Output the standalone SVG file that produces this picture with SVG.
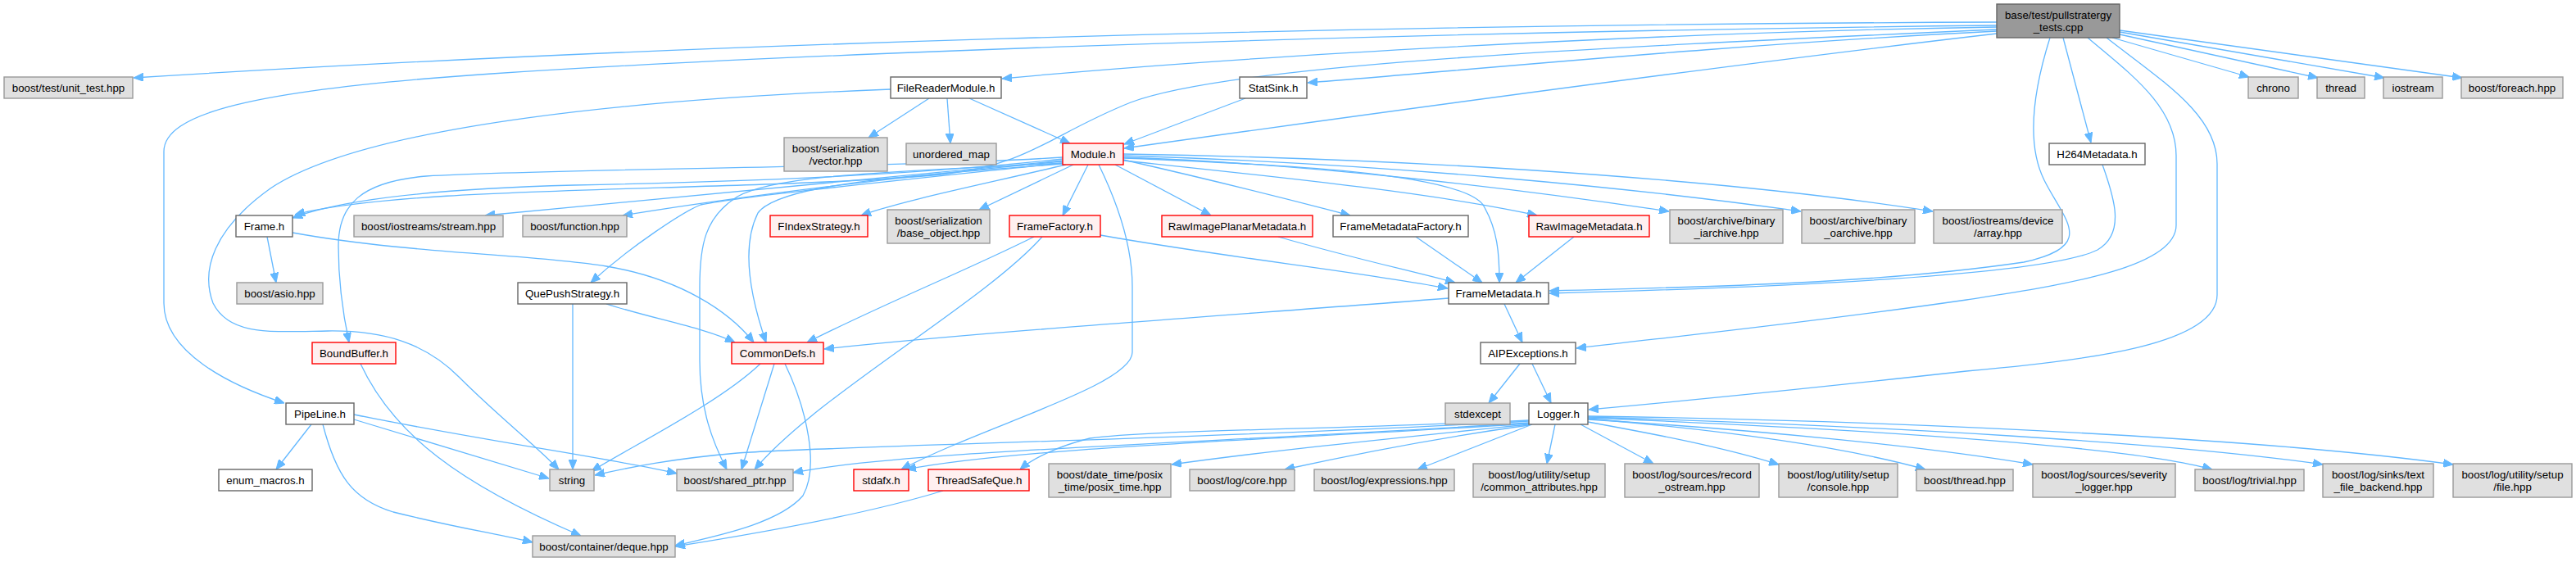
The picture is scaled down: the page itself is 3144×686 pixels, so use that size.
<svg xmlns="http://www.w3.org/2000/svg" width="3144" height="686" viewBox="0 0 3144 686">
<style>
rect{stroke-width:1.4}
.m{fill:#999999;stroke:#666666}
.n{fill:#ffffff;stroke:#666666}
.x{fill:#e0e0e0;stroke:#999999}
.r{fill:#fff0f0;stroke:#ff0000}
text{font-family:"Liberation Sans",Arial,Helvetica,sans-serif;font-size:13.3px;text-anchor:middle;fill:#000}
#edges path{fill:none;stroke:#63b8ff;stroke-width:1.3;marker-end:url(#a)}
</style>
<defs>
<marker id="a" viewBox="0 0 12 10" refX="12" refY="5" markerWidth="12" markerHeight="10" markerUnits="userSpaceOnUse" orient="auto"><path d="M0,0 L12,5 L0,10 z" fill="#63b8ff" stroke="#63b8ff" stroke-width="1"/></marker>
</defs>
<rect width="3144" height="686" fill="#ffffff"/>
<g id="edges">
<path d="M2437,27 C1600,30 800,55 163,95"/>
<path d="M2437,31 C1600,40 900,70 600,90 C300,110 200,140 200,185 L200,370 C200,430 280,470 347,492"/>
<path d="M2437,33 C2000,40 1500,70 1223,96"/>
<path d="M2437,36 C1900,60 1500,80 1380,125 C1280,165 1260,200 1150,213 C900,235 500,225 360,262"/>
<path d="M2437,38 C2100,55 1800,85 1596,101"/>
<path d="M2437,41 C2100,80 1700,135 1372,181"/>
<path d="M2518,46 L2552,174"/>
<path d="M2502,46 C2485,100 2470,170 2495,220 C2520,270 2560,300 2470,320 C2300,345 2100,350 1891,355"/>
<path d="M2566,201 C2580,240 2595,285 2560,305 C2500,335 2200,350 1891,358"/>
<path d="M2548,46 C2600,90 2656,130 2656,190 L2656,275 C2656,330 2500,350 2400,366 C2200,395 2050,410 1924,425"/>
<path d="M2571,46 C2640,100 2706,140 2706,200 L2706,360 C2706,420 2550,440 2400,453 C2200,475 2050,490 1939,500"/>
<path d="M2578,46 L2745,94"/>
<path d="M2587,42 L2829,95"/>
<path d="M2587,39 L2910,95"/>
<path d="M2587,37 L3005,95"/>
<path d="M1134,120 L1060,168"/>
<path d="M1156,120 L1160,175"/>
<path d="M1183,120 L1306,175"/>
<path d="M1087,109 C800,120 450,150 330,230 C260,280 245,330 260,370 C280,410 330,405 400,404 C470,403 520,420 560,460 C610,510 650,540 682,573"/>
<path d="M1520,120 L1372,176"/>
<path d="M1297,194 C1100,215 900,222 700,226 C550,230 420,242 357,266"/>
<path d="M1297,196 C1100,215 900,235 592,263"/>
<path d="M1297,197 C1100,215 900,240 760,263"/>
<path d="M1297,192 C1100,205 700,205 520,215 C440,222 413,250 413,300 C413,350 420,390 426,418"/>
<path d="M1297,199 C1100,220 900,240 855,250 C835,258 770,300 721,345"/>
<path d="M1301,201 C1200,225 1100,245 1051,263"/>
<path d="M1310,201 L1195,256"/>
<path d="M1328,201 L1297,263"/>
<path d="M1297,200 C1100,215 950,225 925,260 C905,300 915,360 935,418"/>
<path d="M1297,199 C1100,210 950,212 900,240 C860,265 854,300 854,350 L854,440 C854,500 870,540 887,573"/>
<path d="M1341,201 C1365,250 1382,300 1382,350 L1382,430 C1382,470 1200,520 1100,573"/>
<path d="M1361,201 L1478,263"/>
<path d="M1371,195 C1480,220 1580,245 1648,263"/>
<path d="M1371,193 C1550,200 1780,210 1810,250 C1828,280 1830,310 1830,345"/>
<path d="M1371,196 C1550,215 1750,235 1876,263"/>
<path d="M1371,192 C1600,200 1850,230 2037,258"/>
<path d="M1371,190 C1700,200 2000,230 2198,258"/>
<path d="M1371,188 C1800,195 2150,225 2359,258"/>
<path d="M326,289 L337,345"/>
<path d="M357,284 C500,310 650,310 740,325 C830,340 890,380 920,418"/>
<path d="M699,371 L699,573"/>
<path d="M740,371 C800,390 860,400 897,418"/>
<path d="M1262,289 C1180,330 1080,370 985,418"/>
<path d="M1272,289 C1200,370 1000,480 921,573"/>
<path d="M1343,287 C1500,315 1650,330 1767,352"/>
<path d="M1560,289 C1650,315 1720,330 1776,345"/>
<path d="M1728,289 L1809,345"/>
<path d="M1921,289 L1850,345"/>
<path d="M1768,364 C1500,385 1200,405 1006,426"/>
<path d="M1836,371 L1858,418"/>
<path d="M1855,444 L1817,492"/>
<path d="M1870,444 L1893,492"/>
<path d="M440,444 C480,530 560,590 709,654"/>
<path d="M380,518 L337,573"/>
<path d="M432,512 L670,584"/>
<path d="M432,506 C600,540 750,560 826,578"/>
<path d="M394,518 C410,580 430,610 480,625 C560,645 610,652 650,662"/>
<path d="M928,444 C880,490 780,540 722,575"/>
<path d="M945,444 L905,573"/>
<path d="M958,444 C985,500 1000,570 980,605 C950,640 870,655 824,666"/>
<path d="M1151,599 C1050,630 900,655 824,667"/>
<path d="M1866,514 C1500,535 1000,545 900,553 C820,560 770,570 726,580"/>
<path d="M1866,516 C1500,540 1100,550 968,577"/>
<path d="M1866,517 C1600,535 1250,545 1106,573"/>
<path d="M1866,513 C1600,525 1400,525 1330,535 C1290,545 1260,560 1245,573"/>
<path d="M1866,518 C1700,535 1550,550 1430,567"/>
<path d="M1866,519 C1750,535 1650,555 1568,573"/>
<path d="M1870,518 L1730,573"/>
<path d="M1898,518 L1888,566"/>
<path d="M1929,518 L2018,566"/>
<path d="M1938,515 C2020,530 2100,545 2171,567"/>
<path d="M1938,511 C2100,525 2250,545 2350,573"/>
<path d="M1938,512 C2150,525 2350,545 2481,567"/>
<path d="M1938,510 C2300,525 2600,545 2700,573"/>
<path d="M1938,509 C2300,520 2650,540 2835,567"/>
<path d="M1938,508 C2400,515 2800,540 2994,567"/>
</g>
<g id="n_main"><rect class="m" x="2437" y="5" width="150" height="41"/><text x="2512" y="23">base/test/pullstratergy</text><text x="2512" y="38">_tests.cpp</text></g>
<g id="n_unit_test"><rect class="x" x="5" y="94" width="157" height="26"/><text x="83.5" y="111.5">boost/test/unit_test.hpp</text></g>
<g id="n_filereader"><rect class="n" x="1087" y="94" width="135" height="26"/><text x="1154.5" y="111.5">FileReaderModule.h</text></g>
<g id="n_statsink"><rect class="n" x="1513" y="94" width="82" height="26"/><text x="1554" y="111.5">StatSink.h</text></g>
<g id="n_chrono"><rect class="x" x="2744" y="94" width="61" height="26"/><text x="2774.5" y="111.5">chrono</text></g>
<g id="n_thread"><rect class="x" x="2828" y="94" width="58" height="26"/><text x="2857" y="111.5">thread</text></g>
<g id="n_iostream"><rect class="x" x="2909" y="94" width="72" height="26"/><text x="2945" y="111.5">iostream</text></g>
<g id="n_foreach"><rect class="x" x="3004" y="94" width="124" height="26"/><text x="3066" y="111.5">boost/foreach.hpp</text></g>
<g id="n_vector"><rect class="x" x="957" y="168" width="126" height="41"/><text x="1020" y="186">boost/serialization</text><text x="1020" y="201">/vector.hpp</text></g>
<g id="n_unordered_map"><rect class="x" x="1106" y="175" width="110" height="26"/><text x="1161" y="192.5">unordered_map</text></g>
<g id="n_module"><rect class="r" x="1297" y="175" width="74" height="26"/><text x="1334" y="192.5">Module.h</text></g>
<g id="n_h264"><rect class="n" x="2501" y="175" width="117" height="26"/><text x="2559.5" y="192.5">H264Metadata.h</text></g>
<g id="n_frame"><rect class="n" x="288" y="263" width="69" height="26"/><text x="322.5" y="280.5">Frame.h</text></g>
<g id="n_stream"><rect class="x" x="432" y="263" width="182" height="26"/><text x="523" y="280.5">boost/iostreams/stream.hpp</text></g>
<g id="n_function"><rect class="x" x="638" y="263" width="127" height="26"/><text x="701.5" y="280.5">boost/function.hpp</text></g>
<g id="n_findex"><rect class="r" x="940" y="263" width="119" height="26"/><text x="999.5" y="280.5">FIndexStrategy.h</text></g>
<g id="n_base_object"><rect class="x" x="1083" y="256" width="125" height="41"/><text x="1145.5" y="274">boost/serialization</text><text x="1145.5" y="289">/base_object.hpp</text></g>
<g id="n_framefactory"><rect class="r" x="1232" y="263" width="111" height="26"/><text x="1287.5" y="280.5">FrameFactory.h</text></g>
<g id="n_rawplanar"><rect class="r" x="1418" y="263" width="184" height="26"/><text x="1510" y="280.5">RawImagePlanarMetadata.h</text></g>
<g id="n_fmfactory"><rect class="n" x="1627" y="263" width="165" height="26"/><text x="1709.5" y="280.5">FrameMetadataFactory.h</text></g>
<g id="n_rawimage"><rect class="r" x="1866" y="263" width="147" height="26"/><text x="1939.5" y="280.5">RawImageMetadata.h</text></g>
<g id="n_iarchive"><rect class="x" x="2038" y="256" width="138" height="41"/><text x="2107" y="274">boost/archive/binary</text><text x="2107" y="289">_iarchive.hpp</text></g>
<g id="n_oarchive"><rect class="x" x="2199" y="256" width="138" height="41"/><text x="2268" y="274">boost/archive/binary</text><text x="2268" y="289">_oarchive.hpp</text></g>
<g id="n_array"><rect class="x" x="2360" y="256" width="157" height="41"/><text x="2438.5" y="274">boost/iostreams/device</text><text x="2438.5" y="289">/array.hpp</text></g>
<g id="n_asio"><rect class="x" x="289" y="345" width="105" height="26"/><text x="341.5" y="362.5">boost/asio.hpp</text></g>
<g id="n_quepush"><rect class="n" x="632" y="345" width="133" height="26"/><text x="698.5" y="362.5">QuePushStrategy.h</text></g>
<g id="n_framemetadata"><rect class="n" x="1768" y="345" width="122" height="26"/><text x="1829" y="362.5">FrameMetadata.h</text></g>
<g id="n_boundbuffer"><rect class="r" x="381" y="418" width="102" height="26"/><text x="432" y="435.5">BoundBuffer.h</text></g>
<g id="n_commondefs"><rect class="r" x="893" y="418" width="112" height="26"/><text x="949" y="435.5">CommonDefs.h</text></g>
<g id="n_aipexceptions"><rect class="n" x="1807" y="418" width="116" height="26"/><text x="1865" y="435.5">AIPExceptions.h</text></g>
<g id="n_pipeline"><rect class="n" x="349" y="492" width="83" height="26"/><text x="390.5" y="509.5">PipeLine.h</text></g>
<g id="n_stdexcept"><rect class="x" x="1764" y="492" width="79" height="26"/><text x="1803.5" y="509.5">stdexcept</text></g>
<g id="n_logger"><rect class="n" x="1866" y="492" width="72" height="26"/><text x="1902" y="509.5">Logger.h</text></g>
<g id="n_enum_macros"><rect class="n" x="267" y="573" width="114" height="26"/><text x="324" y="590.5">enum_macros.h</text></g>
<g id="n_string"><rect class="x" x="671" y="573" width="54" height="26"/><text x="698" y="590.5">string</text></g>
<g id="n_shared_ptr"><rect class="x" x="826" y="573" width="142" height="26"/><text x="897" y="590.5">boost/shared_ptr.hpp</text></g>
<g id="n_stdafx"><rect class="r" x="1042" y="573" width="67" height="26"/><text x="1075.5" y="590.5">stdafx.h</text></g>
<g id="n_threadsafeque"><rect class="r" x="1133" y="573" width="123" height="26"/><text x="1194.5" y="590.5">ThreadSafeQue.h</text></g>
<g id="n_posix_time"><rect class="x" x="1280" y="566" width="149" height="41"/><text x="1354.5" y="584">boost/date_time/posix</text><text x="1354.5" y="599">_time/posix_time.hpp</text></g>
<g id="n_core"><rect class="x" x="1452" y="573" width="128" height="26"/><text x="1516" y="590.5">boost/log/core.hpp</text></g>
<g id="n_expressions"><rect class="x" x="1604" y="573" width="171" height="26"/><text x="1689.5" y="590.5">boost/log/expressions.hpp</text></g>
<g id="n_common_attributes"><rect class="x" x="1798" y="566" width="161" height="41"/><text x="1878.5" y="584">boost/log/utility/setup</text><text x="1878.5" y="599">/common_attributes.hpp</text></g>
<g id="n_record_ostream"><rect class="x" x="1983" y="566" width="164" height="41"/><text x="2065" y="584">boost/log/sources/record</text><text x="2065" y="599">_ostream.hpp</text></g>
<g id="n_console"><rect class="x" x="2171" y="566" width="145" height="41"/><text x="2243.5" y="584">boost/log/utility/setup</text><text x="2243.5" y="599">/console.hpp</text></g>
<g id="n_thread_hpp"><rect class="x" x="2339" y="573" width="118" height="26"/><text x="2398" y="590.5">boost/thread.hpp</text></g>
<g id="n_severity"><rect class="x" x="2481" y="566" width="174" height="41"/><text x="2568" y="584">boost/log/sources/severity</text><text x="2568" y="599">_logger.hpp</text></g>
<g id="n_trivial"><rect class="x" x="2679" y="573" width="133" height="26"/><text x="2745.5" y="590.5">boost/log/trivial.hpp</text></g>
<g id="n_text_file"><rect class="x" x="2835" y="566" width="135" height="41"/><text x="2902.5" y="584">boost/log/sinks/text</text><text x="2902.5" y="599">_file_backend.hpp</text></g>
<g id="n_file"><rect class="x" x="2994" y="566" width="145" height="41"/><text x="3066.5" y="584">boost/log/utility/setup</text><text x="3066.5" y="599">/file.hpp</text></g>
<g id="n_deque"><rect class="x" x="650" y="654" width="174" height="26"/><text x="737" y="671.5">boost/container/deque.hpp</text></g>
</svg>
